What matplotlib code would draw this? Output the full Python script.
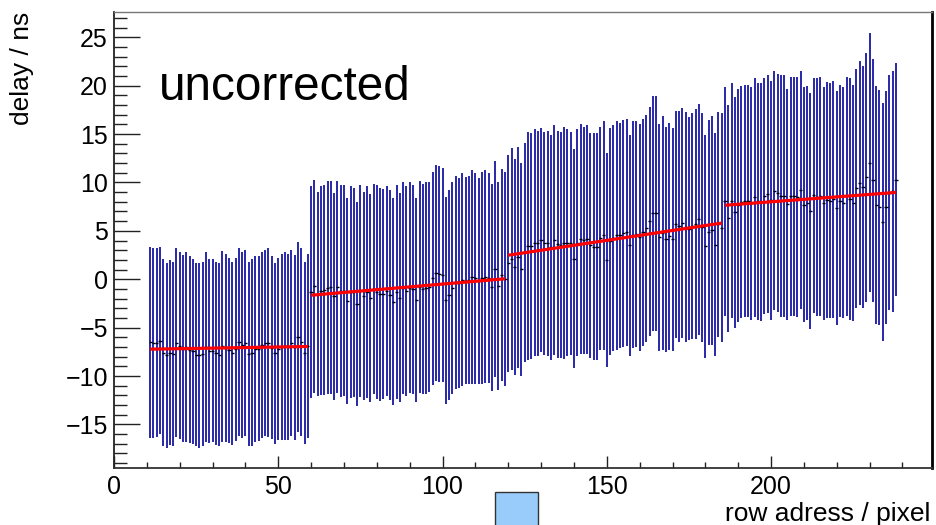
import matplotlib
matplotlib.use('Agg')
import matplotlib.pyplot as plt
from matplotlib.patches import Rectangle
import numpy as np

plt.rcParams['font.family'] = ['Liberation Sans', 'DejaVu Sans']

########################################
# delay per row address: extent of the spread (mean +/- rms) for each row
########################################
rows = np.arange(11, 239)

upper = [
    # rows 11-59
    3.34, 3.20, 3.20, 3.34, 2.10, 1.69, 1.96, 1.83, 3.20, 2.79,
    2.51, 2.79, 2.38, 2.10, 1.69, 1.69, 1.83, 2.79, 2.10, 2.10,
    1.83, 1.69, 2.93, 2.65, 2.24, 1.83, 2.24, 3.20, 2.79, 3.06,
    1.83, 2.10, 2.38, 2.38, 2.79, 3.06, 3.20, 2.38, 1.69, 2.24,
    2.65, 2.79, 2.65, 3.06, 2.51, 3.89, 3.20, 1.83, 2.65,
    # rows 60-119
    9.61, 10.30, 9.06, 9.61, 9.75, 10.16, 10.16, 8.92, 10.16, 9.75,
    9.75, 8.37, 9.61, 9.47, 7.95, 9.75, 9.06, 9.61, 8.78, 9.88,
    9.75, 9.47, 9.33, 9.61, 9.19, 8.37, 9.75, 8.92, 10.02, 9.61,
    10.02, 9.75, 8.37, 10.16, 9.88, 10.02, 10.02, 11.12, 11.81, 11.67,
    11.54, 8.51, 9.19, 10.02, 10.71, 10.43, 10.98, 10.57, 10.71, 11.26,
    10.98, 10.43, 11.12, 11.26, 10.98, 9.88, 12.22, 10.02, 11.40, 11.12,
    # rows 120-185
    12.88, 13.57, 12.47, 13.71, 12.05, 14.12, 15.22, 15.08, 15.50, 15.36,
    15.63, 15.22, 15.36, 14.95, 15.91, 15.36, 15.22, 15.77, 15.50, 15.22,
    13.43, 15.50, 16.05, 15.77, 15.91, 15.08, 15.08, 15.08, 15.77, 16.32,
    13.02, 15.63, 15.91, 16.32, 16.18, 16.46, 16.60, 14.95, 16.32, 16.32,
    16.05, 16.60, 17.01, 17.84, 18.94, 18.94, 16.05, 16.87, 15.77, 16.18,
    15.63, 17.42, 17.42, 17.70, 17.29, 16.74, 17.15, 17.56, 18.11, 17.15,
    14.95, 16.46, 16.87, 15.08, 17.29, 17.15,
    # rows 186-238
    19.83, 18.04, 20.25, 18.87, 19.70, 19.97, 20.11, 20.11, 19.83, 20.80,
    20.25, 20.25, 20.80, 21.07, 20.52, 21.49, 21.21, 21.07, 21.07, 19.70,
    20.94, 20.94, 20.94, 21.49, 19.83, 19.97, 19.28, 20.80, 20.80, 20.94,
    19.83, 20.39, 20.25, 20.52, 19.42, 20.11, 19.83, 20.94, 20.80, 20.11,
    21.76, 22.59, 22.04, 23.42, 25.41, 22.80, 19.97, 19.56, 18.25, 19.42,
    21.07, 21.49, 22.31,
]

lower = [
    # rows 11-59
    -16.36, -16.43, -16.29, -16.01, -17.25, -17.39, -17.11, -17.18, -16.29, -16.49,
    -16.84, -16.77, -16.91, -16.98, -17.25, -17.39, -17.25, -16.77, -16.91, -16.84,
    -17.11, -17.25, -16.77, -16.84, -16.91, -17.11, -16.70, -16.22, -16.36, -16.22,
    -17.18, -17.25, -16.84, -16.70, -16.43, -16.22, -16.29, -16.49, -16.98, -16.63,
    -16.56, -16.56, -16.56, -16.15, -16.56, -15.74, -16.15, -16.98, -16.43,
    # rows 60-119
    -12.29, -11.74, -12.09, -11.95, -11.95, -11.88, -11.81, -12.43, -11.74, -12.16,
    -12.09, -12.84, -12.22, -12.16, -13.12, -12.16, -12.50, -12.29, -12.71, -11.88,
    -12.36, -12.57, -12.36, -12.09, -12.43, -12.98, -12.36, -12.71, -11.81, -12.02,
    -11.74, -11.81, -12.71, -11.74, -11.81, -11.81, -11.67, -10.92, -10.50, -10.64,
    -10.64, -12.84, -12.43, -11.88, -11.33, -11.26, -11.05, -10.85, -10.78, -10.78,
    -10.78, -10.85, -10.85, -10.71, -10.71, -11.54, -10.09, -11.40, -10.50, -10.98,
    # rows 120-185
    -9.61, -9.33, -9.88, -9.19, -10.02, -8.51, -8.37, -8.23, -7.95, -7.95,
    -7.54, -7.82, -7.95, -8.37, -7.82, -8.09, -8.09, -8.23, -7.95, -7.82,
    -9.19, -7.95, -7.68, -7.68, -7.68, -8.09, -8.37, -8.37, -7.27, -7.27,
    -9.06, -7.82, -7.40, -7.27, -7.13, -6.99, -6.85, -7.95, -7.13, -6.99,
    -7.40, -6.85, -6.44, -5.89, -5.34, -5.34, -7.40, -7.27, -7.54, -7.27,
    -7.40, -6.03, -6.44, -6.03, -6.44, -6.30, -6.16, -6.16, -5.75, -6.44,
    -8.09, -6.78, -6.78, -7.95, -5.96, -6.51,
    # rows 186-238
    -3.75, -5.41, -4.03, -4.99, -4.44, -4.03, -3.89, -3.89, -4.17, -3.89,
    -4.17, -4.30, -3.62, -3.48, -4.17, -3.20, -3.34, -3.89, -3.89, -4.17,
    -3.75, -3.75, -3.89, -3.06, -4.44, -4.17, -5.13, -3.48, -3.75, -3.75,
    -4.17, -4.03, -4.03, -4.03, -4.72, -3.89, -4.03, -3.75, -4.17, -4.30,
    -2.93, -2.65, -2.93, -2.38, -1.31, -2.31, -4.58, -4.72, -6.37, -4.58,
    -3.20, -3.34, -1.76,
]

# linear fits per readout block: p0 + p1*row
fit_first = [11, 60, 120, 186]
fit_last = [59, 119, 185, 238]
fit_p0 = [-7.29, -3.38, -3.65, 2.92]
fit_p1 = [0.0058, 0.0288, 0.0511, 0.0254]

upper = np.array(upper)
lower = np.array(lower)
delay = (upper + lower) / 2.

########################################
# plot
########################################
fig = plt.figure(figsize=(9.37, 5.25), dpi=100)
ax = fig.add_axes([0.1217, 0.1086, 0.8730, 0.8684])

ax.vlines(rows, lower, upper, colors='#1717a2', lw=1.3, zorder=2)
ax.hlines(delay, rows - 0.5, rows + 0.5, colors='black', lw=1.0, zorder=3)

for first, last, p0, p1 in zip(fit_first, fit_last, fit_p0, fit_p1):
    xs = np.array([first, last])
    ax.plot(xs, p0 + p1 * xs, color='#ff0000', lw=2.3, zorder=4,
            solid_capstyle='butt')

ax.set_xlim(0, 249)
ax.set_ylim(-19.5, 27.6)
ax.set_xticks([0, 50, 100, 150, 200])
ax.set_xticks(np.arange(10, 250, 10), minor=True)
ax.set_yticks([-15, -10, -5, 0, 5, 10, 15, 20, 25])
ax.set_yticks(np.arange(-19, 28, 1), minor=True)

ax.tick_params(axis='both', which='both', direction='in', width=1.0,
               color='#222222', labelsize=18)
ax.tick_params(axis='y', which='major', length=18.5, pad=4.5)
ax.tick_params(axis='y', which='minor', length=9.5)
ax.tick_params(axis='x', which='major', length=8.5, pad=5)
ax.tick_params(axis='x', which='minor', length=4.3)

ax.spines['top'].set_color('#777777')
ax.spines['top'].set_linewidth(1.0)
ax.spines['right'].set_color('black')
ax.spines['right'].set_linewidth(2.0)
ax.spines['left'].set_color('#222222')
ax.spines['left'].set_linewidth(1.3)
ax.spines['bottom'].set_color('#333333')
ax.spines['bottom'].set_linewidth(1.3)

# axis titles, ROOT style: flush with the frame ends
fig.text(22 / 937., 1 - 12 / 525., 'delay / ns', rotation=90, fontsize=19,
         ha='center', va='top')
fig.text(930 / 937., 1 - 521 / 525., 'row adress / pixel', fontsize=19,
         ha='right', va='baseline')
fig.text(159 / 937., 1 - 100 / 525., 'uncorrected', fontsize=34.3,
         ha='left', va='baseline')

# small blue box under the frame
fig.add_artist(Rectangle((495 / 937., -0.01), 43 / 937., (525 - 492) / 525. + 0.01,
                         transform=fig.transFigure, facecolor='#99ccfb',
                         edgecolor='#333333', lw=1.0))

plt.savefig('out.png')
plt.close()
